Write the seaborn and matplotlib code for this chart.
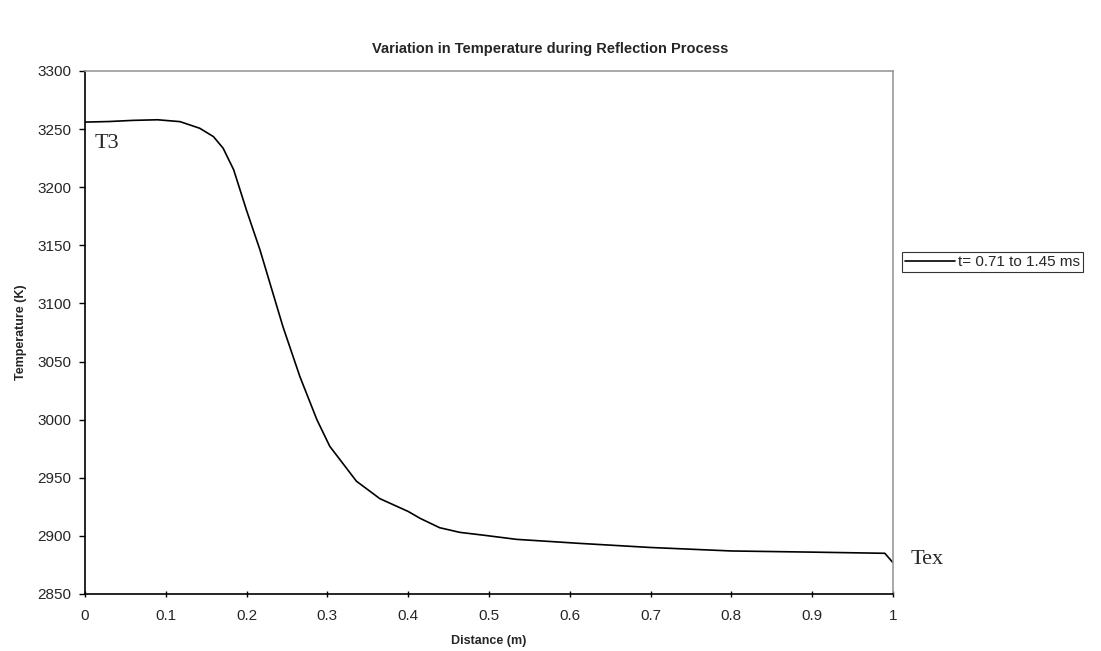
import matplotlib
matplotlib.use("Agg")
import matplotlib.pyplot as plt
import seaborn as sns
import pandas as pd

distance = [0.0, 0.03, 0.06, 0.09, 0.1176, 0.142, 0.159, 0.171, 0.184, 0.200, 0.2166, 0.245,
            0.266, 0.287, 0.303, 0.336, 0.365, 0.40, 0.415, 0.439, 0.464, 0.493, 0.534,
            0.613, 0.70, 0.80, 0.90, 0.99, 1.0]
temperature = [3256, 3256.5, 3257.5, 3258, 3256.4, 3250.7, 3243.5, 3233.5, 3215, 3180, 3146,
               3080, 3037, 3000, 2977, 2947, 2932, 2921, 2915, 2907, 2903, 2900.6, 2897,
               2893.5, 2890, 2887, 2886, 2885, 2877]
series_label = "t= 0.71 to 1.45 ms"
xticks = [0, 0.1, 0.2, 0.3, 0.4, 0.5, 0.6, 0.7, 0.8, 0.9, 1]
xtick_labels = ["0", "0.1", "0.2", "0.3", "0.4", "0.5", "0.6", "0.7", "0.8", "0.9", "1"]
yticks = list(range(2850, 3301, 50))

sns.set_style("white")
plt.rcParams['font.family'] = ['Liberation Sans', 'DejaVu Sans']

df = pd.DataFrame({"Distance": distance, "Temperature": temperature, "series": series_label})

fig = plt.figure(figsize=(11.01, 6.51), dpi=100)
ax = fig.add_axes([0.0772, 0.0876, 0.7338, 0.8034])
sns.lineplot(data=df, x="Distance", y="Temperature", hue="series", palette=["black"],
             linewidth=1.2, ax=ax)

ax.set_xlim(0, 1)
ax.set_ylim(2850, 3300)
ax.set_xticks(xticks)
ax.set_xticklabels(xtick_labels)
ax.set_yticks(yticks)
ax.tick_params(axis="y", direction="out", length=4, width=1, labelsize=11, color="black",
               left=True, pad=6)
ax.tick_params(axis="x", direction="inout", length=5, width=1, labelsize=11, color="black",
               bottom=True, pad=8)
for s in ["left", "bottom"]:
    ax.spines[s].set_color("black")
    ax.spines[s].set_linewidth(1.2)
for s in ["top", "right"]:
    ax.spines[s].set_color("#999999")
    ax.spines[s].set_linewidth(1.2)

ax.set_xlabel("Distance (m)", fontsize=9, fontweight="bold", labelpad=9)
ax.set_ylabel("Temperature (K)", fontsize=9, fontweight="bold", labelpad=7)
fig.suptitle("Variation in Temperature during Reflection Process", fontsize=10.5,
             fontweight="bold", y=0.935)

ax.text(0.012, 3238, "T3", fontsize=16, family=["Liberation Serif", "DejaVu Serif"],
        va="center", ha="left")
ax.text(1.022, 2880, "Tex", fontsize=16, family=["Liberation Serif", "DejaVu Serif"],
        va="center", ha="left", clip_on=False)

leg = ax.legend(loc="center left", bbox_to_anchor=(1.011, 0.635), frameon=True, fancybox=False,
                fontsize=11, handlelength=3.3, handletextpad=0.15, borderpad=0.2,
                borderaxespad=0, edgecolor="black", title=None)
leg.get_frame().set_linewidth(0.8)
for line in leg.get_lines():
    line.set_linewidth(1.2)

fig.savefig("out.png", dpi=100)
